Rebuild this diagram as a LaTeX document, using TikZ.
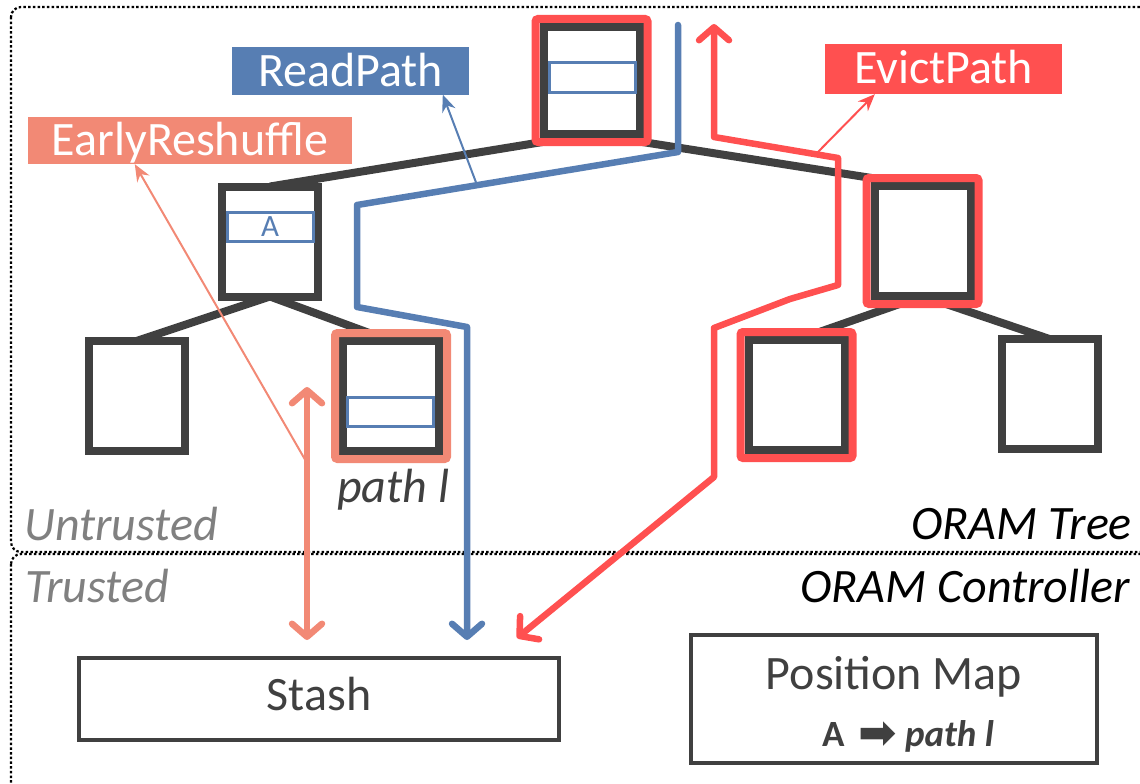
\documentclass[tikz,border=0pt]{standalone}
\usepackage{fontspec}
\setmainfont{Carlito}
\newfontfamily\symfont{DejaVu Sans}
\usetikzlibrary{arrows.meta,calc}
\definecolor{treegray}{RGB}{64,64,64}
\definecolor{rdblue}{RGB}{87,126,179}
\definecolor{evred}{RGB}{255,80,80}
\definecolor{ersalmon}{RGB}{242,137,117}
\definecolor{zonegray}{RGB}{128,128,128}
\pgfdeclarelayer{edges}
\pgfsetlayers{edges,main}

\begin{document}
\begin{tikzpicture}[x=1pt,y=-1pt,
  big/.style={font=\fontsize{48}{48}\selectfont},
  bigit/.style={font=\fontsize{48}{48}\selectfont\itshape},
  bucket/.style={draw=treegray, line width=8pt, fill=white, minimum width=96pt,
    minimum height=110pt, inner sep=0pt, outer sep=0pt},
  frame/.style={draw=#1, line width=8pt, minimum width=112pt, minimum height=126pt,
    rounded corners=2.5pt, inner sep=0pt, outer sep=0pt},
  slot/.style={draw=rdblue, line width=3pt, minimum width=86pt, minimum height=29pt,
    inner sep=0pt, text=rdblue, font=\fontsize{31}{31}\selectfont},
  treeedge/.style={draw=treegray, line width=8pt},
  tag/.style={big, inner sep=0pt, text=white, text height=30pt, text depth=0pt,
    minimum height=47pt},
  zone/.style={draw=black, line width=2.2pt, dash pattern=on 2.5pt off 2.2pt,
    rounded corners=10pt},
  store/.style={draw=treegray, line width=3.5pt, inner sep=0pt, text=treegray, big},
  barb/.style={line width=6.5pt, line join=round},
  ptr/.style={line width=2pt, -{Stealth[length=17pt,width=14pt]}},
]
\useasboundingbox (0,0) rectangle (1140,784);

% trust zones
\begin{scope}
  \clip (0,0) rectangle (1140,784);
  \draw[zone] (11,7) rectangle (1170,552);
  \draw[zone] (11,554) rectangle (1170,794);
\end{scope}
\node[bigit, text=zonegray, anchor=base west, inner sep=0pt] (untrusted) at (24,540) {Untrusted};
\node[bigit, text=zonegray, anchor=base west, inner sep=0pt] (trusted) at (25,602) {Trusted};
\node[bigit, text=black, anchor=base east, inner sep=0pt] (oramtree) at (1132,539) {ORAM Tree};
\node[bigit, text=black, anchor=base east, inner sep=0pt] (oramctrl) at (1130,602) {ORAM Controller};

% ORAM tree buckets
\node[bucket, minimum height=107pt] (root) at (591.5,80.5) {};
\node[bucket] (bA) at (270,241.5) {};
\node[bucket] (bR) at (922.5,241) {};
\node[bucket] (bLL) at (136.5,396) {};
\node[bucket] (bLR) at (391,396) {};
\node[bucket] (bRL) at (796.5,395) {};
\node[bucket] (bRR) at (1049.5,394) {};

\begin{pgfonlayer}{edges}
  \draw[treeedge] (root.south) -- (bA.north);
  \draw[treeedge] (root.south) -- (bR.north);
  \draw[treeedge] (bA.south) -- (bLL.north);
  \draw[treeedge] (bA.south) -- (bLR.north);
  \draw[treeedge] (bR.south) -- (bRL.north);
  \draw[treeedge] (bR.south) -- (bRR.north);
\end{pgfonlayer}

% blocks inside buckets
\node[slot] (slotroot) at ($(root)+(1,-3)$) {};
\node[slot] (slotA) at ($(bA)+(0,-15)$) {A};
\node[slot] (slotLR) at ($(bLR)+(-1,15.5)$) {};

% highlighted buckets
\node[frame=evred, minimum height=123pt] (froot) at (root) {};
\node[frame=evred] (fR) at (bR) {};
\node[frame=evred] (fRL) at (bRL) {};
\node[frame=ersalmon] (fLR) at (bLR) {};
\node[bigit, text=treegray, anchor=base west, inner sep=0pt] (pathl) at (337,502) {path l};

% controller side
\node[store, minimum width=480pt, minimum height=82pt, text height=22pt, text depth=0pt] (stash) at (319,699) {Stash};
\node[store, minimum width=406pt, minimum height=128pt] (posmap) at (894,699) {};
\node[big, text=treegray, anchor=base, inner sep=0pt] (posmaptitle) at (894,689) {Position Map};
\node[text=treegray, anchor=base, inner sep=0pt, font=\fontsize{37}{37}\selectfont] (posmapentry) at (908,746)
  {\bfseries A\hspace{14pt}{\symfont\fontsize{46}{46}\selectfont\raisebox{-2pt}{➡}}\hspace{8pt}\textit{path l}};

% path coordinates
\coordinate (rp0) at (678,25);
\coordinate (rp1) at (678,152);
\coordinate (rp2) at (357,205);
\coordinate (rp3) at (357,307);
\coordinate (rp4) at (467,327);
\coordinate (rp5) at (467,640);
\coordinate (rpmid) at (477,185);

\coordinate (ev0) at (714,24);
\coordinate (ev1) at (714,137);
\coordinate (ev2) at (838,158);
\coordinate (ev3) at (838,285);
\coordinate (ev4) at (790,299);
\coordinate (ev5) at (714,328);
\coordinate (ev6) at (714,477);
\coordinate (ev7) at (517,638);
\coordinate (evmid) at (816,154);

\coordinate (er0) at (307,387);
\coordinate (er1) at (307,640);
\coordinate (ermid) at (307,463);

% operation labels
\node[tag, fill=rdblue, minimum width=237pt] (readpath) at (350.5,71) {ReadPath};
\node[tag, fill=ersalmon, minimum width=324pt] (earlyresh) at (190,140.5) {EarlyReshuffle};
\node[tag, fill=evred, minimum width=237pt, minimum height=50pt] (evictpath) at (943.5,69) {EvictPath};

\draw[ptr, rdblue] (rpmid) -- ($(readpath.south west)+(211,0)$);
\draw[ptr, ersalmon] (ermid) -- ($(earlyresh.south west)+(107,0)$);
\draw[ptr, evred] (evmid) -- ($(evictpath.south west)+(50,0)$);

% operation paths
\draw[barb, rdblue, line cap=round, -{Straight Barb[length=13pt,width=30pt,round]}]
  (rp0) -- (rp1) -- (rp2) -- (rp3) -- (rp4) -- (rp5);
\draw[barb, evred, {Straight Barb[length=13pt,width=30pt,round]}-{Straight Barb[length=13pt,width=30pt,round]}]
  (ev0) -- (ev1) -- (ev2) -- (ev3) -- (ev4) -- (ev5) -- (ev6) -- (ev7);
\draw[barb, ersalmon, {Straight Barb[length=13pt,width=30pt,round]}-{Straight Barb[length=13pt,width=30pt,round]}]
  (er0) -- (er1);
\end{tikzpicture}
\end{document}
